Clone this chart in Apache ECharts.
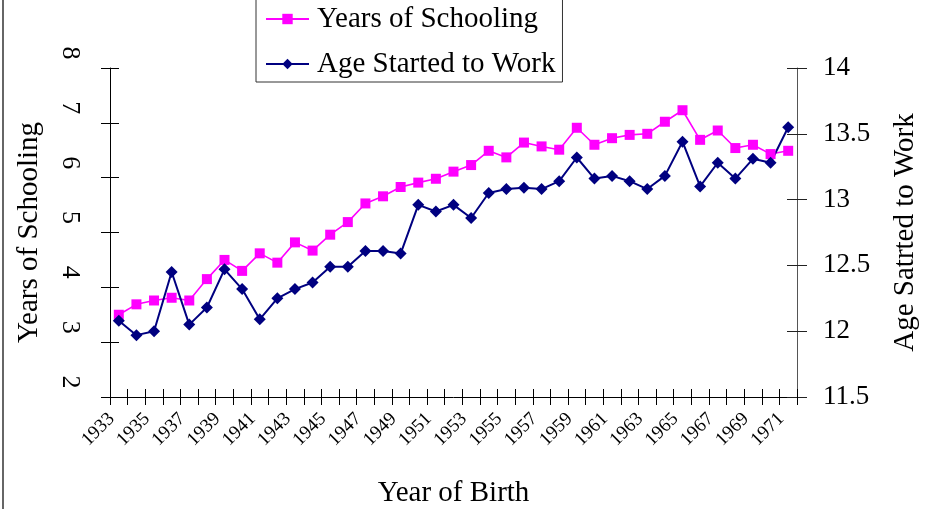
<!DOCTYPE html>
<html>
<head>
<meta charset="utf-8">
<script src="https://cdn.jsdelivr.net/npm/echarts@6/dist/echarts.min.js"></script>
<style>
html,body{margin:0;padding:0;background:#fff;}
#wrap{position:relative;width:934px;height:509px;overflow:hidden;}
#chart{position:absolute;left:0;top:0;width:934px;height:509px;}
#edge{position:absolute;left:2px;top:0;width:2px;height:509px;background:#666;}
</style>
</head>
<body>
<div id="wrap"><div id="chart"></div><div id="edge"></div></div>
<script>
var years = ['1933','1934','1935','1936','1937','1938','1939','1940','1941','1942','1943','1944','1945','1946','1947','1948','1949','1950','1951','1952','1953','1954','1955','1956','1957','1958','1959','1960','1961','1962','1963','1964','1965','1966','1967','1968','1969','1970','1971'];
var schooling = [3.50,3.69,3.76,3.81,3.76,4.15,4.50,4.30,4.62,4.45,4.82,4.67,4.96,5.19,5.53,5.66,5.83,5.91,5.98,6.11,6.23,6.49,6.37,6.64,6.57,6.51,6.91,6.60,6.72,6.78,6.80,7.02,7.23,6.69,6.86,6.54,6.60,6.43,6.49];
var ageStarted = [12.08,11.97,12.00,12.45,12.05,12.18,12.47,12.32,12.09,12.25,12.32,12.37,12.49,12.49,12.61,12.61,12.59,12.96,12.91,12.96,12.86,13.05,13.08,13.09,13.08,13.14,13.32,13.16,13.18,13.14,13.08,13.18,13.44,13.10,13.28,13.16,13.31,13.28,13.55];
var leftTicks = {min: 2, max: 8, interval: 1};
var rightTicks = {min: 11.5, max: 14, interval: 0.5};

var FONT = "'Liberation Serif','Times New Roman',serif";
var chart = echarts.init(document.getElementById('chart'), null, {renderer: 'canvas'});
chart.setOption({
  animation: false,
  backgroundColor: 'transparent',
  textStyle: {fontFamily: FONT, color: '#000'},
  legend: {
    orient: 'vertical',
    left: 256,
    top: -9.5,
    padding: [12, 7, 1.5, 9],
    itemGap: 12,
    itemWidth: 43,
    itemHeight: 13,
    borderColor: '#333',
    borderWidth: 1,
    backgroundColor: '#fff',
    textStyle: {fontFamily: FONT, fontSize: 29, color: '#000', lineHeight: 33, padding: [0, 0, 0, 3]},
    data: ['Years of Schooling', 'Age Started to Work']
  },
  grid: {left: 110, right: 137, top: 68, bottom: 112, containLabel: false, outerBoundsMode: 'none'},
  xAxis: [{
    type: 'category',
    data: years,
    position: 'bottom',
    boundaryGap: true,
    name: 'Year of Birth',
    nameLocation: 'middle',
    nameGap: 82,
    nameTextStyle: {fontFamily: FONT, fontSize: 29, color: '#000'},
    axisLine: {onZero: false, lineStyle: {color: '#000', width: 1}},
    axisTick: {show: true, interval: 0, length: 8, lineStyle: {color: '#000'}},
    axisLabel: {interval: 1, rotate: 45, fontSize: 19, fontFamily: FONT, color: '#000', margin: 12, padding: [0, 10, 0, 0]},
    splitLine: {show: false}
  }, {
    type: 'category',
    data: years,
    position: 'bottom',
    boundaryGap: true,
    axisLine: {show: false, onZero: false},
    axisTick: {show: true, inside: true, interval: 0, length: 8, lineStyle: {color: '#000'}},
    axisLabel: {show: false},
    splitLine: {show: false}
  }],
  yAxis: [{
    type: 'value',
    position: 'left',
    min: leftTicks.min, max: leftTicks.max, interval: leftTicks.interval,
    name: 'Years of Schooling',
    nameLocation: 'middle',
    nameRotate: 90,
    nameGap: 66,
    nameTextStyle: {fontFamily: FONT, fontSize: 29, color: '#000'},
    axisLine: {show: true, lineStyle: {color: '#000', width: 1}},
    axisTick: {show: true, length: 9, lineStyle: {color: '#000'}},
    axisLabel: {rotate: -90, fontSize: 26, fontFamily: FONT, color: '#000', margin: 27, padding: [0, 30, 0, 0]},
    splitLine: {show: false}
  }, {
    type: 'value',
    position: 'right',
    min: rightTicks.min, max: rightTicks.max, interval: rightTicks.interval,
    name: 'Age Satrted to Work',
    nameLocation: 'middle',
    nameRotate: 90,
    nameGap: 94,
    nameTextStyle: {fontFamily: FONT, fontSize: 29, color: '#000'},
    axisLine: {show: true, lineStyle: {color: '#555', width: 1}},
    axisTick: {show: true, length: 10, lineStyle: {color: '#222'}},
    axisLabel: {fontSize: 27, fontFamily: FONT, color: '#000', margin: 26},
    splitLine: {show: false}
  }, {
    type: 'value',
    position: 'left',
    min: leftTicks.min, max: leftTicks.max, interval: leftTicks.interval,
    axisLine: {show: false},
    axisTick: {show: true, inside: true, length: 9, lineStyle: {color: '#000'}},
    axisLabel: {show: false},
    splitLine: {show: false}
  }, {
    type: 'value',
    position: 'right',
    min: rightTicks.min, max: rightTicks.max, interval: rightTicks.interval,
    axisLine: {show: false},
    axisTick: {show: true, inside: true, length: 10, lineStyle: {color: '#222'}},
    axisLabel: {show: false},
    splitLine: {show: false}
  }],
  series: [{
    name: 'Years of Schooling',
    type: 'line',
    xAxisIndex: 0,
    yAxisIndex: 0,
    data: schooling,
    symbol: 'rect',
    symbolSize: 10,
    showAllSymbol: true,
    lineStyle: {color: '#FF00FF', width: 1.6},
    itemStyle: {color: '#FF00FF', borderWidth: 0}
  }, {
    name: 'Age Started to Work',
    type: 'line',
    xAxisIndex: 0,
    yAxisIndex: 1,
    data: ageStarted,
    symbol: 'diamond',
    symbolSize: 12,
    showAllSymbol: true,
    lineStyle: {color: '#000080', width: 2},
    itemStyle: {color: '#000080', borderWidth: 0}
  }]
});
</script>
</body>
</html>
